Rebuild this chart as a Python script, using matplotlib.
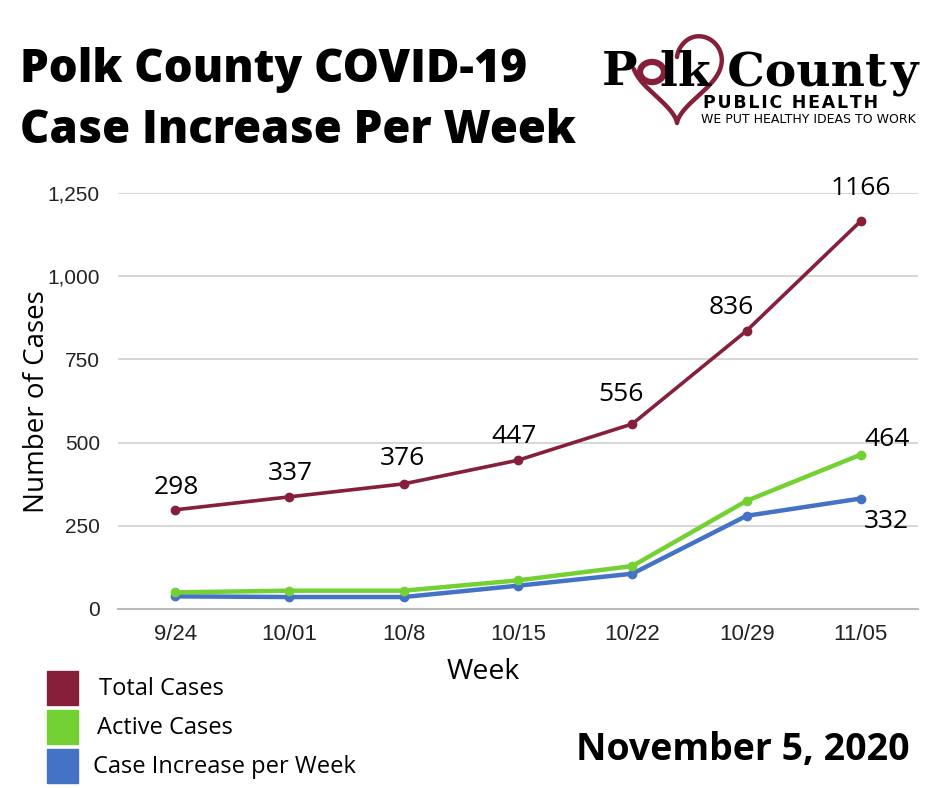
import numpy as np
import matplotlib
matplotlib.use("Agg")
import matplotlib.pyplot as plt
from matplotlib.patches import Rectangle, Circle
from matplotlib.lines import Line2D

weeks = ["9/24", "10/01", "10/8", "10/15", "10/22", "10/29", "11/05"]
total_cases = [298, 337, 376, 447, 556, 836, 1166]
active_cases = [50, 55, 55, 86, 129, 325, 464]
case_increase = [38, 36, 36, 70, 106, 280, 332]
y_ticks = [0, 250, 500, 750, 1000, 1250]
series_names = ["Total Cases", "Active Cases", "Case Increase per Week"]

RED = "#861F39"
GREEN = "#74D134"
BLUE = "#4472C4"

W, H = 940, 788
fig = plt.figure(figsize=(W / 100, H / 100), dpi=100)
fig.patch.set_facecolor("white")
PX = 0.72  # points per pixel at 100 dpi


def fx(x):
    return x / W


def fy(y):
    return 1 - y / H


ax = fig.add_axes([fx(118), fy(609), fx(918) - fx(118), fy(193) - fy(609)])
x = np.arange(len(weeks))
ax.plot(x, case_increase, color=BLUE, lw=3.2, marker="o", ms=6, zorder=3)
ax.plot(x, active_cases, color=GREEN, lw=3.2, marker="o", ms=6, zorder=4)
ax.plot(x, total_cases, color=RED, lw=2.6, marker="o", ms=6, zorder=5)

ax.set_xlim(-0.5, len(weeks) - 0.5)
ax.set_ylim(0, 1250)
ax.set_yticks(y_ticks)
ax.set_yticklabels([f"{v:,}" for v in y_ticks], fontsize=15, family="Liberation Sans")
ax.set_xticks(x)
ax.set_xticklabels(weeks, fontsize=16, family="Liberation Sans")
ax.tick_params(axis="both", length=0, colors="#222222")
ax.tick_params(axis="y", pad=13)
ax.tick_params(axis="x", pad=11)
ax.grid(axis="y", color="#D0D0D0", lw=1.2)
ax.set_axisbelow(True)
for s in ["top", "right", "left"]:
    ax.spines[s].set_visible(False)
ax.spines["bottom"].set_color("#BBBBBB")
ax.spines["bottom"].set_linewidth(1.5)
ax.set_facecolor("none")

# data labels (label offsets in pixels: dx, gap above point)
total_offsets = [(1, 10), (1, 11), (-1, 13), (-4, 11), (-11, 17), (-15, 11), (0, 20)]
for i, v in enumerate(total_cases):
    dx, dy = total_offsets[i]
    ax.annotate(str(v), (i, v), xytext=(dx * PX, dy * PX), textcoords="offset points",
                ha="center", va="bottom", fontsize=19, family="Open Sans")
ax.annotate(str(active_cases[-1]), (x[-1], active_cases[-1]), xytext=(26 * PX, 3 * PX),
            textcoords="offset points", ha="center", va="bottom", fontsize=19, family="Open Sans")
ax.annotate(str(case_increase[-1]), (x[-1], case_increase[-1]), xytext=(26 * PX, -10 * PX),
            textcoords="offset points", ha="center", va="top", fontsize=19, family="Open Sans")

fig.text(fx(37), fy(402), "Number of Cases", rotation=90, ha="center", va="center",
         fontsize=20, family="Open Sans")
fig.text(fx(483), fy(672), "Week", ha="center", va="center", fontsize=20.5, family="Open Sans")

# title
fig.text(fx(20), fy(82), "Polk County COVID-19", ha="left", va="baseline",
         fontsize=32.8, family="Open Sans", weight="heavy")
fig.text(fx(20), fy(143), "Case Increase Per Week", ha="left", va="baseline",
         fontsize=32.8, family="Open Sans", weight="heavy")

# legend
colors = [RED, GREEN, BLUE]
ys = [671, 710, 749]
txt_x = [99, 97, 93]
for c, yy, tx, name in zip(colors, ys, txt_x, series_names):
    fig.patches.append(Rectangle((fx(47), fy(yy + 34)), fx(31), 34 / H,
                                 transform=fig.transFigure, color=c))
    fig.text(fx(tx), fy(yy + 18), name, ha="left", va="center", fontsize=17, family="Open Sans")

fig.text(fx(910), fy(750), "November 5, 2020", ha="right", va="center",
         fontsize=27, family="Open Sans", weight="bold")

# logo: heart outline (open on the upper left, where the spiral "o" sits)
t = np.linspace(0, 1.45 * np.pi, 400)
hx = 16 * np.sin(t) ** 3
hy = 13 * np.cos(t) - 5 * np.cos(2 * t) - 2 * np.cos(3 * t) - np.cos(4 * t)
cx, cy = 677, 72
fig.lines.append(Line2D(fx(cx + 2.8 * hx), fy(cy - 3.0 * hy),
                        transform=fig.transFigure, color=RED, lw=3.2,
                        solid_capstyle="round", zorder=1))
fig.patches.append(Circle((fx(652), fy(72)), 12 / W, transform=fig.transFigure,
                          fill=False, ec=RED, lw=4.5, zorder=2))
logo_font = dict(fontsize=34, family="DejaVu Serif", weight="bold", zorder=3, va="baseline")
fig.text(fx(602), fy(85), "P", ha="left", **logo_font)
fig.text(fx(887), fy(85), "lk Count", ha="right", **logo_font)
fig.text(fx(918), fy(85), "y", ha="right", **logo_font)
fig.text(fx(878), fy(108), "\u200a".join("PUBLIC HEALTH"), ha="right", va="baseline",
         fontsize=12.5, family="DejaVu Sans", weight="bold", zorder=3)
fig.text(fx(916), fy(123), "WE PUT HEALTHY IDEAS TO WORK", ha="right", va="baseline",
         fontsize=9, family="DejaVu Sans", zorder=3)

fig.savefig("out.png", dpi=100, facecolor="white")
